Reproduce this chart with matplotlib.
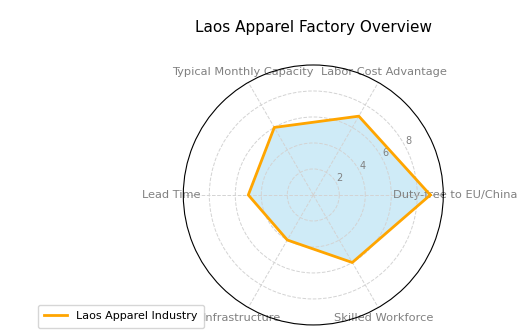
import numpy as np
import matplotlib.pyplot as plt

categories = ['Duty-free to EU/China', 'Labor Cost Advantage', 'Typical Monthly Capacity',
              'Lead Time', 'Infrastructure', 'Skilled Workforce']
values = [9, 7, 6, 5, 4, 6]
series_name = 'Laos Apparel Industry'

angles = np.linspace(0, 2 * np.pi, len(categories), endpoint=False).tolist()
vals = values + values[:1]
angs = angles + angles[:1]

fig = plt.figure(figsize=(5.31, 3.35), dpi=100)
ax = fig.add_axes([0.345, 0.03, 0.49, 0.776], polar=True)

ax.fill(angs, vals, color='skyblue', alpha=0.4)
ax.plot(angs, vals, color='orange', linewidth=2, label=series_name)

ax.set_xticks(angles)
ax.set_xticklabels(categories, color='grey', fontsize=8.2)
ax.tick_params(axis='x', pad=-2)
ax.set_ylim(0, 10)
ax.set_yticks([2, 4, 6, 8])
ax.set_yticklabels(['2', '4', '6', '8'], color='grey', fontsize=7)
ax.set_rlabel_position(28)
ax.grid(color='lightgrey', linestyle='--', linewidth=0.7)

ax.set_title('Laos Apparel Factory Overview', fontsize=11, pad=24)
ax.legend(loc='upper right', bbox_to_anchor=(0.1, 0.1), fontsize=8, borderpad=0.6)

fig.savefig('out.png', dpi=100)
